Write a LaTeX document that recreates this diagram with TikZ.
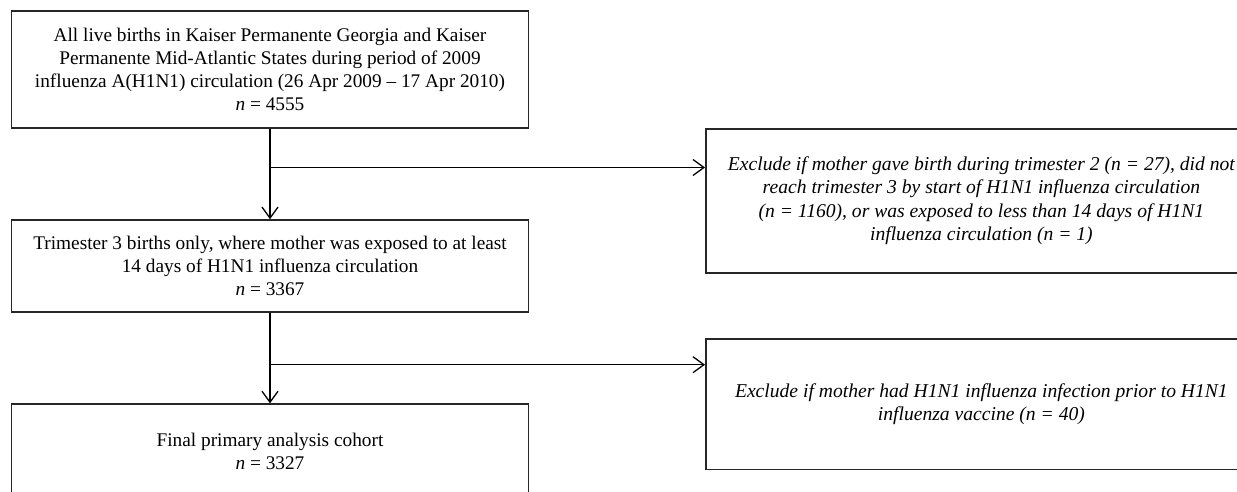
\documentclass[tikz,border=0pt]{standalone}
\usepackage{fontspec}
\setmainfont{Liberation Serif}
\usetikzlibrary{arrows.meta,calc}
\tikzset{
  box/.style={draw=black!85, line width=1.7pt, rectangle, inner sep=0pt, align=center,
    font=\fontsize{19.3}{23}\selectfont},
  exbox/.style={box, font=\fontsize{19.6}{23.6}\selectfont\itshape},
  conn/.style={draw=black, line width=1.3pt},
  arr/.style={conn, -{Straight Barb[length=11pt,width=16pt,line width=1.3pt]}}
}
\begin{document}
\begin{tikzpicture}[x=1pt,y=-1pt]
\useasboundingbox (0,0) rectangle (1237,492);
\clip (0,0) rectangle (1237,492);
\fill[white] (0,0) rectangle (1237,492);
\node[box, minimum width=517pt, minimum height=117pt] (a) at (270,69.2)
  {All live births in Kaiser Permanente Georgia and Kaiser\\
   Permanente Mid-Atlantic States during period of 2009\\
   influenza A(H1N1) circulation (26 Apr 2009 -- 17 Apr 2010)\\
   {\itshape n} = 4555};
\node[box, minimum width=517pt, minimum height=91.7pt] (b) at (270,265.9)
  {Trimester 3 births only, where mother was exposed to at least\\
   14 days of H1N1 influenza circulation\\
   {\itshape n} = 3367};
\node[box, minimum width=517pt, minimum height=94pt] (c) at (270,451.2)
  {Final primary analysis cohort\\
   {\itshape n} = 3327};
\node[exbox, minimum width=551pt, minimum height=144pt] (r1) at (981.4,200.7)
  {Exclude if mother gave birth during trimester 2 (n = 27), did not\\
   reach trimester 3 by start of H1N1 influenza circulation\\
   (n = 1160), or was exposed to less than 14 days of H1N1\\
   influenza circulation (n = 1)};
\node[exbox, minimum width=551pt, minimum height=130.3pt] (r2) at (981.4,404.2)
  {Exclude if mother had H1N1 influenza infection prior to H1N1\\
   influenza vaccine (n = 40)};
\coordinate (j1) at (270,167.5);
\coordinate (j2) at (270,364.7);
\draw[arr] (a.south) -- (b.north);
\draw[arr] (j1) -- (j1 -| r1.west);
\draw[arr] (b.south) -- (c.north);
\draw[arr] (j2) -- (j2 -| r2.west);
\end{tikzpicture}
\end{document}
